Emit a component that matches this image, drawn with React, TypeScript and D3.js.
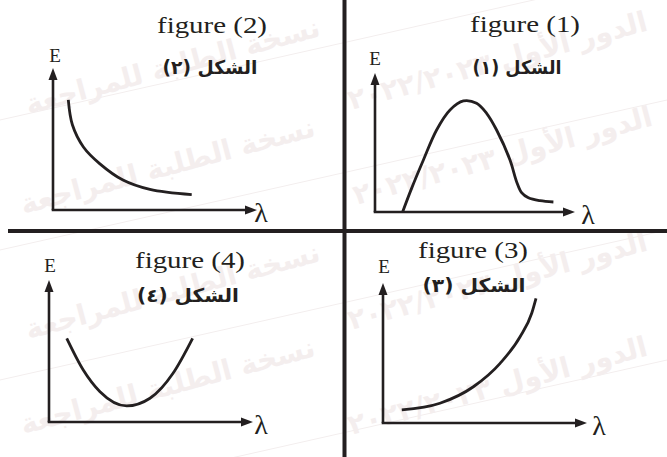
import React from "react";
import * as d3 from "d3";

const W = 667;
const H = 457;

// Curve values in axis units (λ along the horizontal axis, E up the vertical axis, both 0–10)
const fig1Lambda = [1.38, 1.83, 2.42, 3.08, 3.75, 4.42, 5.08, 5.58, 6.08, 6.75, 7.08, 7.33, 7.67, 8.25, 8.92];
const fig1Energy = [0.0, 1.7, 3.74, 5.9, 7.34, 7.99, 7.82, 7.1, 5.9, 3.74, 2.18, 1.39, 1.02, 0.81, 0.72];

const fig2Lambda = [0.75, 0.95, 1.49, 2.3, 3.43, 4.75, 6.8];
const fig2Energy = [7.75, 6.0, 4.44, 3.25, 2.11, 1.45, 1.08];

const fig3Lambda = [0.92, 2.79, 4.43, 5.74, 6.72, 7.29, 7.5];
const fig3Energy = [0.93, 1.41, 2.59, 4.26, 6.16, 7.84, 8.91];

const fig4Lambda = [0.87, 1.68, 2.5, 3.81, 4.95, 6.08, 7.04];
const fig4Energy = [5.89, 3.66, 2.13, 1.13, 1.67, 3.43, 5.89];

const titlesEn = ["figure (1)", "figure (2)", "figure (3)", "figure (4)"];
const titlesAr = ["الشكل (١)", "الشكل (٢)", "الشكل (٣)", "الشكل (٤)"];
const axisLabelY = "E";
const axisLabelX = "λ";
const watermarkPhrases = ["نسخة الطلبة للمراجعة", "الدور الأول ٢٠٢٢/٢٠٢٣"];

const INK = "#231f20";
const SERIF = "Liberation Serif, Times New Roman, Times, serif";
const RLM = "\u200F";

type Panel = {
  lambda: number[];
  energy: number[];
  curve: d3.CurveFactory;
  ox: number; // axis origin
  oy: number;
  xTip: number;
  yTip: number;
  en: { x: number; y: number; w: number };
  ar: { x: number; y: number; w: number };
  eLabel: { x: number; y: number };
  lLabel: { x: number; y: number };
};

const panels: Panel[] = [
  {
    lambda: fig1Lambda, energy: fig1Energy, curve: d3.curveCatmullRom.alpha(0.5),
    ox: 375, oy: 212, xTip: 575, yTip: 73,
    en: { x: 525, y: 32, w: 110 }, ar: { x: 517, y: 74, w: 89 },
    eLabel: { x: 375, y: 65 }, lLabel: { x: 588, y: 224 },
  },
  {
    lambda: fig2Lambda, energy: fig2Energy, curve: d3.curveCatmullRom.alpha(0.5),
    ox: 53, oy: 210, xTip: 257, yTip: 68,
    en: { x: 212, y: 33, w: 110 }, ar: { x: 210, y: 74, w: 95 },
    eLabel: { x: 55, y: 62 }, lLabel: { x: 261, y: 222 },
  },
  {
    lambda: fig3Lambda, energy: fig3Energy, curve: d3.curveMonotoneX,
    ox: 383, oy: 423, xTip: 587, yTip: 283,
    en: { x: 473, y: 258, w: 110 }, ar: { x: 474, y: 292, w: 103 },
    eLabel: { x: 384, y: 273 }, lLabel: { x: 599, y: 435 },
  },
  {
    lambda: fig4Lambda, energy: fig4Energy, curve: d3.curveMonotoneX,
    ox: 49, oy: 422, xTip: 253, yTip: 280,
    en: { x: 190, y: 268, w: 110 }, ar: { x: 188, y: 302, w: 102 },
    eLabel: { x: 50, y: 272 }, lLabel: { x: 261, y: 434 },
  },
];

function Arrow({ x, y, dir }: { x: number; y: number; dir: "up" | "right" }) {
  const len = 12;
  const half = 4.5;
  const pts =
    dir === "up"
      ? [[x, y], [x - half, y + len], [x + half, y + len]]
      : [[x, y], [x - len, y - half], [x - len, y + half]];
  return <polygon points={pts.map((p) => p.join(",")).join(" ")} fill={INK} />;
}

function PanelView({ p, i }: { p: Panel; i: number }) {
  const xScale = d3.scaleLinear().domain([0, 10]).range([p.ox, p.xTip]);
  const yScale = d3.scaleLinear().domain([0, 10]).range([p.oy, p.yTip]);
  const rows = p.lambda.map((l, k) => [l, p.energy[k]] as [number, number]);
  const line = d3
    .line<[number, number]>()
    .x((d) => xScale(d[0]))
    .y((d) => yScale(d[1]))
    .curve(p.curve);

  return (
    <g>
      <text
        x={p.en.x}
        y={p.en.y}
        textAnchor="middle"
        fontFamily={SERIF}
        fontSize={24}
        textLength={p.en.w}
        lengthAdjust="spacingAndGlyphs"
        fill={INK}
      >
        {titlesEn[i]}
      </text>
      <text
        x={p.ar.x}
        y={p.ar.y}
        textAnchor="middle"
        fontFamily="DejaVu Sans, sans-serif"
        fontWeight="bold"
        fontSize={19}
        textLength={p.ar.w}
        lengthAdjust="spacingAndGlyphs"
        fill={INK}
      >
        {titlesAr[i] + RLM}
      </text>
      <line x1={p.ox} y1={p.oy} x2={p.ox} y2={p.yTip + 8} stroke={INK} strokeWidth={2.6} />
      <line x1={p.ox - 1.3} y1={p.oy} x2={p.xTip - 8} y2={p.oy} stroke={INK} strokeWidth={2.6} />
      <Arrow x={p.ox} y={p.yTip} dir="up" />
      <Arrow x={p.xTip} y={p.oy} dir="right" />
      <text
        x={p.eLabel.x}
        y={p.eLabel.y}
        textAnchor="middle"
        fontFamily={SERIF}
        fontSize={19}
        fill={INK}
      >
        {axisLabelY}
      </text>
      <text
        x={p.lLabel.x}
        y={p.lLabel.y}
        textAnchor="middle"
        fontFamily={SERIF}
        fontSize={28}
        fill={INK}
      >
        {axisLabelX}
      </text>
      <path d={line(rows) || ""} fill="none" stroke={INK} strokeWidth={2.8} />
    </g>
  );
}

// faint diagonal stamp repeated behind the figures
const stampSpots = [
  [175, 75], [500, 70], [170, 175], [505, 165], [175, 300], [500, 290], [170, 395], [500, 395],
];

function Watermark() {
  return (
    <g fill="#f4eeee" fontFamily="DejaVu Sans, sans-serif" fontWeight="bold" fontSize={28}>
      {[120, 250, 380, 510].map((r, k) => (
        <line key={"l" + k} x1={0} y1={r} x2={W} y2={r - 150} stroke="#f3eeee" strokeWidth={1} />
      ))}
      {stampSpots.map(([x, y], k) => (
        <text
          key={k}
          x={x}
          y={y}
          textAnchor="middle"
          transform={`rotate(-15 ${x} ${y})`}
        >
          {watermarkPhrases[k % 2] + RLM}
        </text>
      ))}
    </g>
  );
}

export default function App() {
  return (
    <svg
      width={W}
      height={H}
      viewBox={`0 0 ${W} ${H}`}
      style={{ position: "absolute", left: 0, top: 0, background: "#fff" }}
    >
      <rect width={W} height={H} fill="#fff" />
      <Watermark />
      <line x1={344.5} y1={0} x2={344.5} y2={H} stroke={INK} strokeWidth={4} />
      <line x1={8} y1={231} x2={W} y2={231} stroke={INK} strokeWidth={4} />
      {panels.map((p, i) => (
        <PanelView key={i} p={p} i={i} />
      ))}
    </svg>
  );
}
